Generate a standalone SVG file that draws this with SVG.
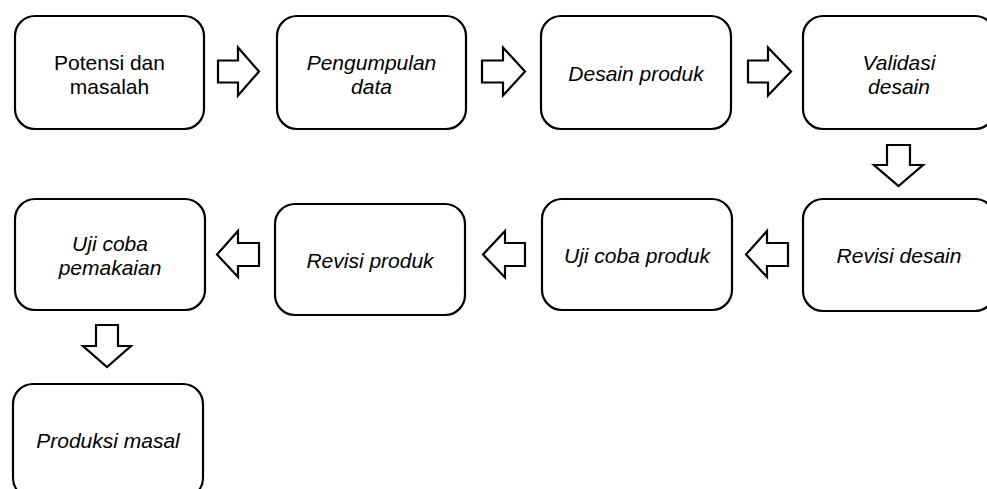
<svg xmlns="http://www.w3.org/2000/svg" width="987" height="489" viewBox="0 0 987 489">
<style>
.box{fill:#fff;stroke:#000;stroke-width:2.2}
.arr{fill:#fff;stroke:#000;stroke-width:2.2;stroke-linejoin:miter}
text{font-family:"Liberation Sans",Arial,sans-serif;font-size:21px;fill:#000;text-anchor:middle}
.i{font-style:italic}
</style>
<rect width="987" height="489" fill="#fff"/>
<g id="n1"><rect class="box" x="15" y="16" width="189" height="113" rx="20"/><text x="109.5" y="69.5">Potensi dan</text><text x="109.5" y="93.5">masalah</text></g>
<g id="n2"><rect class="box" x="277" y="16" width="189" height="113" rx="20"/><text class="i" x="371.5" y="69.5">Pengumpulan</text><text class="i" x="371.5" y="93.5">data</text></g>
<g id="n3"><rect class="box" x="541" y="16" width="190" height="113" rx="20"/><text class="i" x="636" y="81">Desain produk</text></g>
<g id="n4"><rect class="box" x="803" y="16" width="192" height="113" rx="20"/><text class="i" x="899" y="69.5">Validasi</text><text class="i" x="899" y="93.5">desain</text></g>
<g id="n5"><rect class="box" x="15" y="199" width="190" height="111" rx="20"/><text class="i" x="110" y="250.5">Uji coba</text><text class="i" x="110" y="274.5">pemakaian</text></g>
<g id="n6"><rect class="box" x="275" y="204" width="190" height="111" rx="20"/><text class="i" x="370" y="267.5">Revisi produk</text></g>
<g id="n7"><rect class="box" x="542" y="199" width="190" height="111" rx="20"/><text class="i" x="637" y="262.5">Uji coba produk</text></g>
<g id="n8"><rect class="box" x="803" y="199" width="192" height="112" rx="20"/><text class="i" x="899" y="263">Revisi desain</text></g>
<g id="n9"><rect class="box" x="13" y="384" width="190" height="114" rx="20"/><text class="i" x="108" y="448">Produksi masal</text></g>
<g id="connectors">
<polygon class="arr" points="218,60.5 238,60.5 238,47.5 259,71.5 238,95.5 238,82.5 218,82.5"/>
<polygon class="arr" points="482,60.5 503,60.5 503,47.5 525,71.5 503,95.5 503,82.5 482,82.5"/>
<polygon class="arr" points="748,60.5 768,60.5 768,47.5 791,71.5 768,95.5 768,82.5 748,82.5"/>
<polygon class="arr" points="887,145 910,145 910,165 923,165 898.5,186 874,165 887,165"/>
<polygon class="arr" points="788,243 767,243 767,231 746,254.5 767,277 767,266 788,266"/>
<polygon class="arr" points="525,243 505,243 505,231 483,254.5 505,277.5 505,266 525,266"/>
<polygon class="arr" points="259,243 238,243 238,231 217,254.5 238,277 238,266 259,266"/>
<polygon class="arr" points="96,325 118,325 118,346 131,346 107,367 83,346 96,346"/>
</g>
</svg>
